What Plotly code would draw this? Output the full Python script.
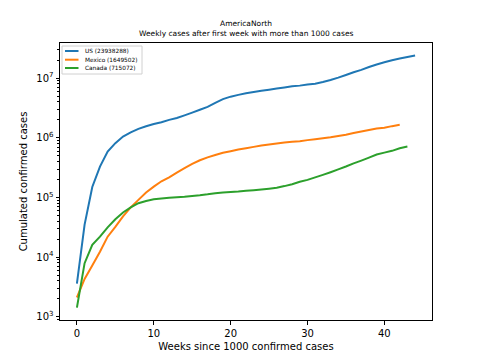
import plotly.graph_objects as go

weeks_us = list(range(45))
us = [3600, 35000, 150000, 330000, 590000, 815000, 1050000, 1230000, 1410000, 1560000,
      1700000, 1820000, 2000000, 2150000, 2380000, 2650000, 2950000, 3300000, 3850000, 4450000,
      4900000, 5250000, 5600000, 5850000, 6150000, 6400000, 6700000, 7000000, 7300000, 7500000,
      7850000, 8100000, 8650000, 9300000, 10200000, 11300000, 12600000, 13800000, 15400000, 17000000,
      18500000, 20000000, 21300000, 22700000, 23938288]

weeks_mx = list(range(43))
mexico = [2100, 4300, 7200, 12300, 22000, 32000, 48000, 68000, 91000, 121000,
          152000, 187000, 218000, 261000, 309000, 365000, 420000, 470000, 515000, 560000,
          595000, 635000, 670000, 705000, 745000, 775000, 805000, 835000, 860000, 880000,
          915000, 945000, 980000, 1020000, 1075000, 1130000, 1200000, 1275000, 1350000, 1430000,
          1480000, 1570000, 1649502]

weeks_ca = list(range(44))
canada = [1420, 7900, 16000, 22000, 31600, 43000, 56000, 68000, 80000, 87000,
          93000, 96000, 99000, 101000, 103000, 106000, 109000, 113000, 118000, 121000,
          124000, 126000, 129000, 132000, 136000, 140000, 145000, 155000, 167000, 183000,
          197000, 217000, 239000, 265000, 295000, 330000, 372000, 415000, 465000, 525000,
          565000, 605000, 670000, 715072]

names = ["US (23938288)", "Mexico (1649502)", "Canada (715072)"]
colors = ["#1f77b4", "#ff7f0e", "#2ca02c"]
xs = [weeks_us, weeks_mx, weeks_ca]
ys = [us, mexico, canada]

x_ticks = [0, 10, 20, 30, 40]
y_ticks = [1e3, 1e4, 1e5, 1e6, 1e7]
y_ticktext = ["10<sup>3</sup>", "10<sup>4</sup>", "10<sup>5</sup>", "10<sup>6</sup>", "10<sup>7</sup>"]
y_minor = [m * 10 ** e for e in range(2, 8) for m in range(2, 10)]

font = "DejaVu Sans, Liberation Sans, sans-serif"

fig = go.Figure()
for name, x, y, c in zip(names, xs, ys, colors):
    fig.add_trace(go.Scatter(x=x, y=y, mode="lines", name=name, showlegend=False,
                             line=dict(color=c, width=2, simplify=False)))

# plot area: 60..432 px wide (372), 43..320 px tall (277)
W, H, L, T = 372.0, 277.0, 60.0, 43.0
def px(xp):
    return (xp - L) / W
def py(yp):
    return (T + H - yp) / H

shapes = [dict(type="rect", xref="paper", yref="paper",
               x0=px(62), x1=px(142), y0=py(74), y1=py(46),
               line=dict(color="#d0d0d0", width=1), fillcolor="rgba(255,255,255,0.8)", layer="above")]
annotations = []
row_y = [51, 59.7, 68]
for name, c, ry in zip(names, colors, row_y):
    shapes.append(dict(type="line", xref="paper", yref="paper",
                       x0=px(65), x1=px(78.5), y0=py(ry), y1=py(ry),
                       line=dict(color=c, width=2), layer="above"))
    annotations.append(dict(text=name, xref="paper", yref="paper", x=px(82.5), y=py(ry),
                            xanchor="left", yanchor="middle", showarrow=False,
                            font=dict(size=5.8, family=font, color="black")))

annotations.append(dict(text="AmericaNorth", xref="paper", yref="paper", x=0.5, y=py(23),
                        xanchor="center", yanchor="middle", showarrow=False,
                        font=dict(size=7.5, family=font, color="black")))
annotations.append(dict(text="Weekly cases after first week with more than 1000 cases",
                        xref="paper", yref="paper", x=0.5, y=py(34),
                        xanchor="center", yanchor="middle", showarrow=False,
                        font=dict(size=7.5, family=font, color="black")))

fig.update_layout(
    width=480, height=360,
    margin=dict(l=60, r=48, t=43, b=40, autoexpand=False),
    paper_bgcolor="white", plot_bgcolor="white",
    font=dict(family=font, size=10, color="black"),
    showlegend=False,
    shapes=shapes, annotations=annotations,
    xaxis=dict(range=[-2.2, 46.2], tickvals=x_ticks, ticktext=[str(t) for t in x_ticks],
               ticks="outside", ticklen=3.5, tickcolor="black", showgrid=False, zeroline=False,
               showline=True, linecolor="black", linewidth=1, mirror=True,
               title=dict(text="Weeks since 1000 confirmed cases", standoff=5,
                          font=dict(size=10, family=font))),
    yaxis=dict(type="log", range=[2.945, 7.59], tickvals=y_ticks, ticktext=y_ticktext,
               ticks="outside", ticklen=3.5, tickcolor="black", showgrid=False, zeroline=False,
               showline=True, linecolor="black", linewidth=1, mirror=True,
               minor=dict(tickmode="array", tickvals=y_minor, ticks="outside", ticklen=2,
                          tickcolor="black", showgrid=False),
               title=dict(text="Cumulated confirmed cases", standoff=6,
                          font=dict(size=10, family=font))),
)

fig.write_html("out.html", config={"displayModeBar": False},
               post_script="document.body.style.margin='0';")
